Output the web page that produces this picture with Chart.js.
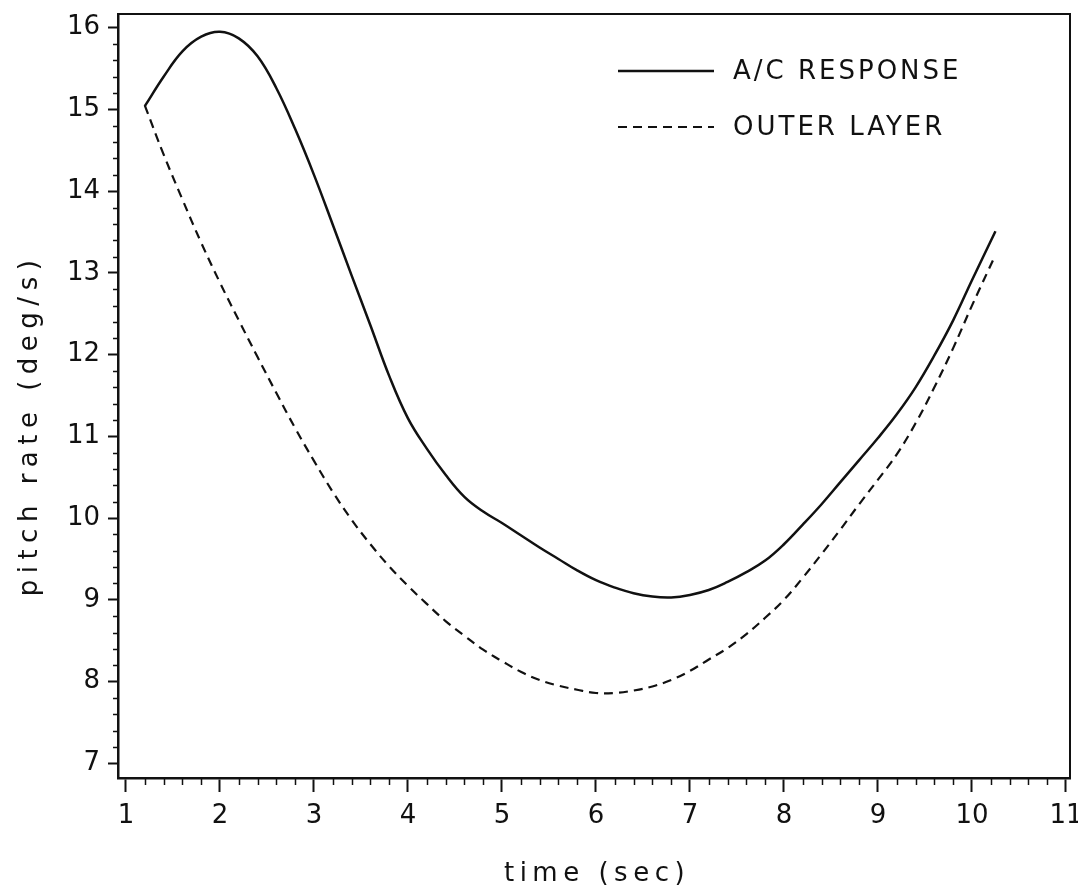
<!DOCTYPE html>
<html>
<head>
<meta charset="utf-8">
<script src="https://cdn.jsdelivr.net/npm/chart.js@4.4.1/dist/chart.umd.min.js"></script>
<style>
  html, body { margin: 0; padding: 0; background: #fff; }
  #wrap { width: 1078px; height: 892px; position: relative; }
</style>
</head>
<body>
<div id="wrap"><canvas id="c" width="1078" height="892"></canvas></div>
<script>
// ---- data ----
const timeValues = [1.2,1.4,1.6,1.8,2.0,2.2,2.4,2.6,2.8,3.0,3.2,3.4,3.6,3.8,4.0,4.2,4.4,4.6,4.8,5.0,5.2,5.4,5.6,5.8,6.0,6.2,6.4,6.6,6.8,7.0,7.2,7.4,7.6,7.8,8.0,8.2,8.4,8.6,8.8,9.0,9.2,9.4,9.6,9.8,10.0,10.25];
const acResponse = [15.04,15.40,15.71,15.89,15.95,15.87,15.65,15.26,14.76,14.20,13.59,12.97,12.36,11.74,11.22,10.85,10.53,10.26,10.08,9.94,9.79,9.64,9.50,9.36,9.24,9.15,9.08,9.04,9.03,9.06,9.12,9.22,9.34,9.48,9.68,9.92,10.17,10.44,10.71,10.98,11.27,11.60,11.99,12.42,12.91,13.51];
const outerLayer = [15.05,14.45,13.90,13.37,12.88,12.42,11.97,11.53,11.10,10.70,10.32,9.98,9.68,9.41,9.17,8.95,8.74,8.56,8.39,8.25,8.12,8.02,7.95,7.90,7.86,7.86,7.89,7.94,8.02,8.13,8.27,8.41,8.58,8.78,9.00,9.27,9.56,9.86,10.17,10.47,10.78,11.16,11.60,12.08,12.60,13.22];
const seriesLabels = ['A/C RESPONSE', 'OUTER LAYER'];
const xTicks = [1,2,3,4,5,6,7,8,9,10,11];
const yTicks = [7,8,9,10,11,12,13,14,15,16];
const xTitle = 'time (sec)';
const yTitle = 'pitch rate (deg/s)';

const FONT = "'DejaVu Sans', 'Liberation Sans', sans-serif";
const INK = '#111';

const toPoints = (ys) => ys.map((v, i) => ({ x: timeValues[i], y: v }));

const decor = {
  id: 'decor',
  afterDraw(chart) {
    const { ctx, chartArea: a, scales: { x, y } } = chart;
    ctx.save();
    ctx.strokeStyle = INK;
    // top and right frame
    ctx.lineWidth = 2;
    ctx.beginPath();
    ctx.moveTo(a.left, a.top);
    ctx.lineTo(a.right, a.top);
    ctx.lineTo(a.right, a.bottom);
    ctx.stroke();
    // minor ticks
    ctx.lineWidth = 1.5;
    ctx.beginPath();
    for (let i = 0; i < xTicks.length - 1; i++) {
      for (let k = 1; k < 5; k++) {
        const v = xTicks[i] + (xTicks[i + 1] - xTicks[i]) * k / 5;
        const px = Math.round(x.getPixelForValue(v)) + 0.5;
        ctx.moveTo(px, a.bottom); ctx.lineTo(px, a.bottom + 7);
      }
    }
    for (let i = 0; i < yTicks.length - 1; i++) {
      for (let k = 1; k < 5; k++) {
        const v = yTicks[i] + (yTicks[i + 1] - yTicks[i]) * k / 5;
        const py = Math.round(y.getPixelForValue(v)) + 0.5;
        ctx.moveTo(a.left - 5, py); ctx.lineTo(a.left, py);
      }
    }
    ctx.stroke();

    // legend inside the plot
    const ds = chart.data.datasets;
    const lx0 = 618, lx1 = 714, tx = 733;
    const rows = [71, 127];
    ctx.font = '26px ' + FONT;
    ctx.fillStyle = INK;
    ctx.textBaseline = 'middle';
    ctx.textAlign = 'left';
    ds.forEach((d, i) => {
      ctx.lineWidth = d.borderWidth;
      ctx.setLineDash(d.borderDash || []);
      ctx.beginPath();
      ctx.moveTo(lx0, rows[i]); ctx.lineTo(lx1, rows[i]);
      ctx.stroke();
      ctx.setLineDash([]);
      try { ctx.letterSpacing = '3px'; } catch (e) {}
      ctx.fillText(d.label, tx, rows[i] + 1);
    });

    // axis titles with wide letter spacing
    ctx.font = '26px ' + FONT;
    ctx.textAlign = 'center';
    ctx.textBaseline = 'middle';
    try { ctx.letterSpacing = '5.5px'; } catch (e) {}
    ctx.fillText(xTitle, (a.left + a.right) / 2 + 3, 874);
    ctx.save();
    ctx.translate(30, 428);
    ctx.rotate(-Math.PI / 2);
    try { ctx.letterSpacing = '6.5px'; } catch (e) {}
    ctx.fillText(yTitle, 3, 0);
    ctx.restore();
    try { ctx.letterSpacing = '0px'; } catch (e) {}
    ctx.restore();
  }
};

const noPad = (s) => { s.paddingTop = 0; s.paddingBottom = 0; s.paddingLeft = 0; s.paddingRight = 0; };

new Chart(document.getElementById('c'), {
  type: 'line',
  data: {
    datasets: [
      {
        label: seriesLabels[0],
        data: toPoints(acResponse),
        borderColor: INK,
        borderWidth: 2.5,
        pointRadius: 0,
        fill: false,
        tension: 0.4
      },
      {
        label: seriesLabels[1],
        data: toPoints(outerLayer),
        borderColor: INK,
        borderWidth: 2.2,
        borderDash: [9, 6],
        pointRadius: 0,
        fill: false,
        tension: 0.4
      }
    ]
  },
  options: {
    responsive: false,
    animation: false,
    layout: { padding: { top: 14, right: 8, left: 0, bottom: 0 } },
    plugins: { legend: { display: false }, tooltip: { enabled: false }, title: { display: false } },
    scales: {
      x: {
        type: 'linear',
        min: 0.915,
        max: 11.043,
        afterBuildTicks: (s) => { s.ticks = xTicks.map(v => ({ value: v })); },
        afterFit: (s) => { s.height = 114; noPad(s); },
        ticks: {
          autoSkip: false, maxRotation: 0, padding: 9,
          color: INK, font: { family: FONT, size: 26 },
          callback: (v) => String(v)
        },
        grid: { display: true, drawOnChartArea: false, drawTicks: true, tickLength: 14, tickWidth: 2, tickColor: INK },
        border: { display: true, color: INK, width: 2.5 },
        title: { display: false }
      },
      y: {
        type: 'linear',
        min: 6.82,
        max: 16.168,
        afterBuildTicks: (s) => { s.ticks = yTicks.map(v => ({ value: v })); },
        afterFit: (s) => { s.width = 118; noPad(s); },
        ticks: {
          autoSkip: false, padding: 8,
          color: INK, font: { family: FONT, size: 26 },
          callback: (v) => String(v)
        },
        grid: { display: true, drawOnChartArea: false, drawTicks: true, tickLength: 10, tickWidth: 2, tickColor: INK },
        border: { display: true, color: INK, width: 2.5 },
        title: { display: false }
      }
    }
  },
  plugins: [decor]
});
</script>
</body>
</html>
